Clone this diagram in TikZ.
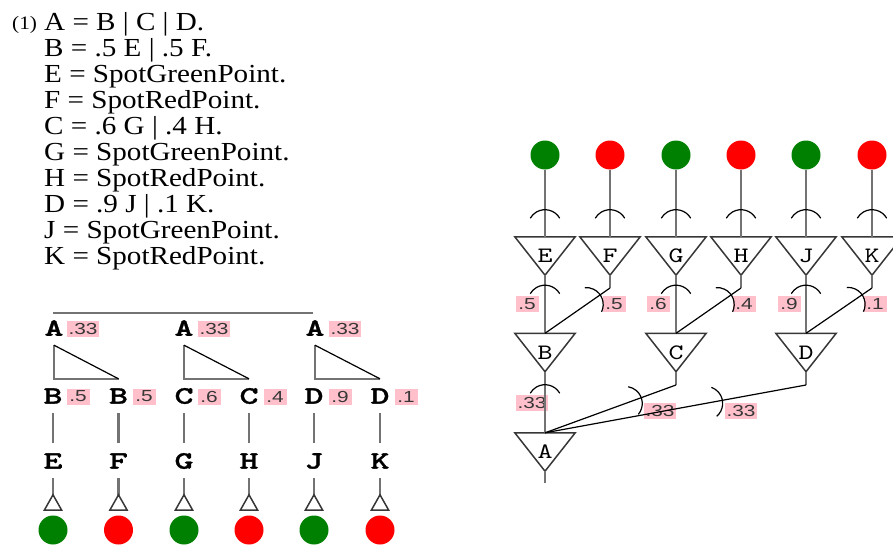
\documentclass[tikz,border=0pt]{standalone}
\usepackage{fontspec}
\setmainfont{Liberation Serif}[FakeStretch=1.12]
\newfontfamily\sansfont{Liberation Sans}[FakeStretch=1.3]
\newfontfamily\monobold{lmmonolt10-bold}[Extension=.otf, FakeStretch=1.45, FakeBold=1.2]
\newfontfamily\monoreg{lmmono10-regular}[Extension=.otf, FakeStretch=1.3]
\usetikzlibrary{decorations.markings}
\definecolor{pinkbox}{RGB}{255,192,203}
\definecolor{linegray}{RGB}{115,115,115}
\definecolor{trigray}{RGB}{55,55,55}
\definecolor{dotgreen}{RGB}{0,128,0}
\definecolor{dotred}{RGB}{255,0,0}
\definecolor{numtext}{RGB}{55,55,55}
\begin{document}
\begin{tikzpicture}[x=1pt,y=1pt,
  txt/.style={font=\fontsize{26}{26}\selectfont, inner sep=0pt, anchor=base west},
  numlbl/.style={font=\fontsize{19}{19}\selectfont, inner sep=0pt, anchor=base west},
  gline/.style={draw=linegray, line width=2.2pt},
  bline/.style={draw=black, line width=1.2pt},
  triout/.style={draw=trigray, line width=1.5pt, line join=miter},
  tribox/.style={minimum width=60pt, minimum height=38pt, inner sep=0pt, font=\monoreg\fontsize{22}{22}\selectfont},
  mlab/.style={minimum height=34pt, inner sep=0pt, font=\monobold\fontsize{25}{25}\selectfont},
  pbox/.style={fill=pinkbox, inner sep=0pt, minimum height=16pt, minimum width=#1, font=\sansfont\fontsize{16}{16}\selectfont, text=numtext},
  pbox/.default=32pt,
  gdot/.style={circle, fill=dotgreen, minimum size=29pt, inner sep=0pt},
  rdot/.style={circle, fill=dotred, minimum size=29pt, inner sep=0pt},
  uptri/.style={minimum width=17pt, minimum height=15pt, inner sep=0pt},
  arcat/.style={postaction={decorate, decoration={markings, mark=at position #1 with {\draw[black, line width=1.2pt] (8.5pt,14.7pt) arc[start angle=120, end angle=240, radius=17pt];}}}}
]
\useasboundingbox (0,0) rectangle (893,-546);
\clip (0,0) rectangle (893,-546);

% ---------- grammar text ----------
\node[numlbl] (num) at (12,-29) {(1)};
\foreach \t [count=\i] in {A = B | C | D., B = .5 E | .5 F., E = SpotGreenPoint., F = SpotRedPoint., C = .6 G | .4 H., G = SpotGreenPoint., H = SpotRedPoint., D = .9 J | .1 K., J = SpotGreenPoint., K = SpotRedPoint.}
  \node[txt] (line\i) at (44,{-30-26*(\i-1)}) {\t};

% ---------- left tree ----------
\node[pbox] (pa1) at (83,-328.5) {.33};
\node[pbox] (pa2) at (214,-328.5) {.33};
\node[pbox] (pa3) at (345,-328.5) {.33};
\node[mlab] (A1) at (54,-328) {A};
\node[mlab] (A2) at (184,-328) {A};
\node[mlab] (A3) at (315,-328) {A};

\node[pbox=23pt] (pb1) at (78,-396.5) {.5};
\node[pbox=23pt] (pb2) at (144,-396.5) {.5};
\node[pbox=23pt] (pb3) at (209,-396.5) {.6};
\node[pbox=23pt] (pb4) at (275,-396.5) {.4};
\node[pbox=23pt] (pb5) at (340,-396.5) {.9};
\node[pbox=23pt] (pb6) at (406,-396.5) {.1};
\node[mlab] (B1) at (53,-396) {B};
\node[mlab] (B2) at (118.5,-396) {B};
\node[mlab] (C1) at (184,-396) {C};
\node[mlab] (C2) at (249,-396) {C};
\node[mlab] (D1) at (314,-396) {D};
\node[mlab] (D2) at (380,-396) {D};

\node[mlab] (LE) at (53,-461) {E};
\node[mlab] (LF) at (118.5,-461) {F};
\node[mlab] (LG) at (184,-461) {G};
\node[mlab] (LH) at (249,-461) {H};
\node[mlab] (LJ) at (314,-461) {J};
\node[mlab] (LK) at (380,-461) {K};

\foreach \n/\x in {E/53,F/118.5,G/184,H/249,J/314,K/380}
  \node[uptri] (u\n) at (\x,-502.5) {};
\node[gdot] (dE) at (53,-530) {};
\node[rdot] (dF) at (118.5,-530) {};
\node[gdot] (dG) at (184,-530) {};
\node[rdot] (dH) at (249,-530) {};
\node[gdot] (dJ) at (314,-530) {};
\node[rdot] (dK) at (380,-530) {};

\coordinate (topL) at (53,-313);
\coordinate (topR) at (313,-313);
\draw[gline] (topL) -- (topR);

\foreach \a/\r in {A1/B2,A2/C2,A3/D2}{
  \draw[gline] (\a.south) |- (\r.north);
  \draw[bline] (\a.south) -- (\r.north);
}
\foreach \u/\l in {B1/LE,B2/LF,C1/LG,C2/LH,D1/LJ,D2/LK}
  \draw[gline, shorten >=1pt] (\u.south) -- (\l.north);
\foreach \n in {E,F,G,H,J,K}{
  \draw[gline] (L\n.south) -- (u\n.north);
  \draw[triout] (u\n.south west) -- (u\n.south east) -- (u\n.north) -- cycle;
}

% ---------- right network ----------
\node[pbox=23pt] (q1) at (527,-304) {.5};
\node[pbox=23pt] (q2) at (614,-304) {.5};
\node[pbox=23pt] (q3) at (658,-304) {.6};
\node[pbox=23pt] (q4) at (744,-304) {.4};
\node[pbox=23pt] (q5) at (789,-304) {.9};
\node[pbox=23pt] (q6) at (875,-304) {.1};
\node[pbox] (q7) at (532,-403) {.33};
\node[pbox] (q8) at (660,-411) {.33};
\node[pbox] (q9) at (741,-411) {.33};

\node[gdot] (cE) at (545,-155) {};
\node[rdot] (cF) at (610,-155) {};
\node[gdot] (cG) at (676,-155) {};
\node[rdot] (cH) at (741,-155) {};
\node[gdot] (cJ) at (806,-155) {};
\node[rdot] (cK) at (872,-155) {};

\foreach \n/\x in {E/545,F/610,G/676,H/741,J/806,K/872}
  \node[tribox] (t\n) at (\x,-256) {\n};
\node[tribox] (tB) at (545,-352.5) {B};
\node[tribox] (tC) at (676,-352.5) {C};
\node[tribox] (tD) at (806,-352.5) {D};
\node[tribox] (tA) at (545,-452) {A};
\coordinate (Aend) at (545,-483);

\foreach \n in {E,F,G,H,J,K,B,C,D,A}
  \draw[triout] (t\n.north west) -- (t\n.north east) -- (t\n.south) -- cycle;

\foreach \n in {E,F,G,H,J,K}
  \draw[gline, arcat=40pt] (c\n.south) -- (t\n.north);

\coordinate (bF) at (610,-288);
\coordinate (bH) at (741,-288);
\coordinate (bK) at (872,-288);
\foreach \s/\k/\p in {E/F/B,G/H/C,J/K/D}{
  \draw[gline, arcat=10pt] (t\s.south) -- (t\p.north);
  \draw[gline] (t\k.south) -- (b\k);
  \draw[bline, arcat=12pt] (b\k) -- (t\p.north);
}

\coordinate (bC) at (676,-385);
\coordinate (bD) at (806,-385);
\draw[gline, arcat=13pt] (tB.south) -- (tA.north);
\draw[gline] (tC.south) -- (bC);
\draw[bline, arcat=37pt] (bC) -- (tA.north);
\draw[gline] (tD.south) -- (bD);
\draw[bline, arcat=85pt] (bD) -- (tA.north);
\draw[gline] (tA.south) -- (Aend);
\end{tikzpicture}
\end{document}
